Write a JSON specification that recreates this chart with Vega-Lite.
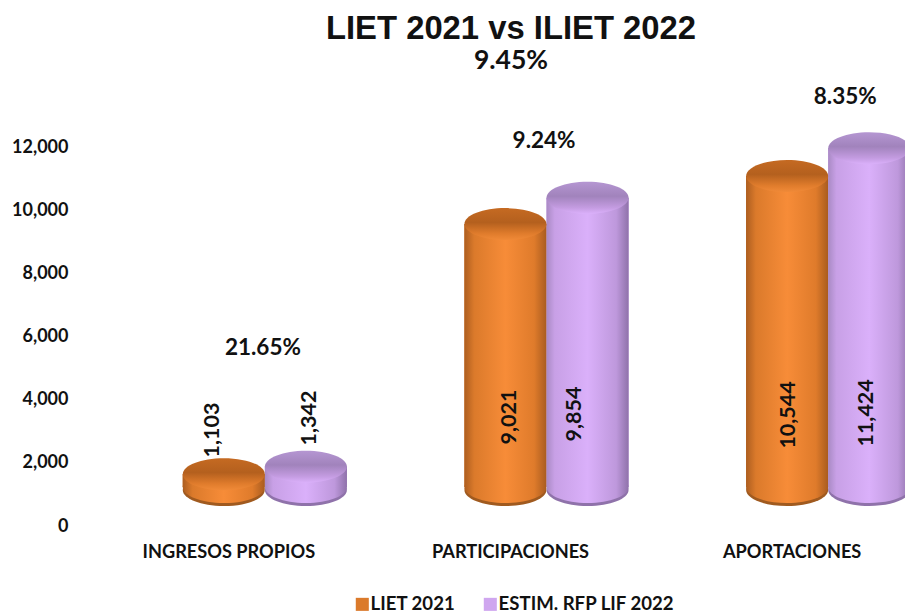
{
"$schema":"https://vega.github.io/schema/vega-lite/v6.json",
"autosize":{"type":"none"},
"padding":{"left":124,"top":146,"right":0,"bottom":88},
"width":845,"height":379,
"background":"white",
"title":{"text":"LIET 2021 vs ILIET 2022","subtitle":"9.45%","anchor":"middle","dx":-35.5,"offset":11,"font":"Liberation Sans","fontSize":32.8,"fontWeight":"bold","color":"#111111","subtitleFont":"Lato","subtitleFontSize":26.5,"subtitleFontWeight":"bold","subtitleColor":"#111111","subtitlePadding":3},
"config":{"view":{"stroke":null},"font":"Lato"},
"datasets":{
"bars":[
{"category":"INGRESOS PROPIOS","series":"LIET 2021","value":1103},
{"category":"INGRESOS PROPIOS","series":"ESTIM. RFP LIF 2022","value":1342,"change":"21.65%"},
{"category":"PARTICIPACIONES","series":"LIET 2021","value":9021},
{"category":"PARTICIPACIONES","series":"ESTIM. RFP LIF 2022","value":9854,"change":"9.24%"},
{"category":"APORTACIONES","series":"LIET 2021","value":10544},
{"category":"APORTACIONES","series":"ESTIM. RFP LIF 2022","value":11424,"change":"8.35%"}]
},
"data":{"name":"bars"},
"encoding":{
"x":{"field":"category","type":"nominal","sort":["INGRESOS PROPIOS","PARTICIPACIONES","APORTACIONES"],"scale":{"type":"band","paddingInner":0.417,"paddingOuter":0.2085},
"axis":{"title":null,"labelAngle":0,"domain":false,"ticks":false,"labelFont":"Lato","labelFontSize":18.2,"labelFontWeight":"bold","labelColor":"#111111","labelPadding":18,"labelOffset":-36}},
"xOffset":{"field":"series","type":"nominal","sort":["LIET 2021","ESTIM. RFP LIF 2022"],"scale":{"type":"band","domain":["LIET 2021","ESTIM. RFP LIF 2022"],"paddingInner":0,"paddingOuter":0}},
"y":{"field":"value","type":"quantitative","scale":{"domain":[0,12000],"nice":false},
"axis":{"title":null,"values":[0,2000,4000,6000,8000,10000,12000],"format":",.0f","grid":false,"domain":false,"ticks":false,"labelFont":"Lato","labelFontSize":18,"labelFontWeight":"bold","labelColor":"#111111","labelPadding":56,"labelOffset":1}}
},
"layer":[
{"mark":{"type":"point","filled":true,"opacity":1,"size":6724,"shape":"M-1,0A1,0.39,0,1,0,1,0A1,0.39,0,1,0,-1,0Z","yOffset":-35,"color":"#A05A1F"},
 "transform":[{"filter":"datum.series==='LIET 2021'"}],
 "encoding":{"y":{"datum":0}}},
{"mark":{"type":"point","filled":true,"opacity":1,"size":6724,"shape":"M-1,0A1,0.39,0,1,0,1,0A1,0.39,0,1,0,-1,0Z","yOffset":-35,"color":"#8F72AA"},
 "transform":[{"filter":"datum.series!=='LIET 2021'"}],
 "encoding":{"y":{"datum":0}}},
{"mark":{"type":"point","filled":true,"opacity":1,"size":6724,"shape":"M-1,0A1,0.39,0,1,0,1,0A1,0.39,0,1,0,-1,0Z","yOffset":-38,"color":{"gradient":"linear","x1":0,"y1":0,"x2":1,"y2":0,"stops":[{"offset":0,"color":"#AD5E20"},{"offset":0.12,"color":"#DB7A2B"},{"offset":0.5,"color":"#F78C38"},{"offset":0.85,"color":"#DF7B2B"},{"offset":1,"color":"#A95C1F"}]}},
 "transform":[{"filter":"datum.series==='LIET 2021'"}],
 "encoding":{"y":{"datum":0}}},
{"mark":{"type":"point","filled":true,"opacity":1,"size":6724,"shape":"M-1,0A1,0.39,0,1,0,1,0A1,0.39,0,1,0,-1,0Z","yOffset":-38,"color":{"gradient":"linear","x1":0,"y1":0,"x2":1,"y2":0,"stops":[{"offset":0,"color":"#A98AC4"},{"offset":0.1,"color":"#C8A0E6"},{"offset":0.5,"color":"#DAB0FA"},{"offset":0.85,"color":"#BE98DC"},{"offset":1,"color":"#8F72AA"}]}},
 "transform":[{"filter":"datum.series!=='LIET 2021'"}],
 "encoding":{"y":{"datum":0}}},
{"mark":{"type":"bar","yOffset":-16,"y2Offset":-38},
 "encoding":{"y2":{"datum":0},
 "color":{"field":"series","type":"nominal","sort":["LIET 2021","ESTIM. RFP LIF 2022"],
  "scale":{"domain":["LIET 2021","ESTIM. RFP LIF 2022"],"range":["#DB7A2B","#CFA6EF"]},
  "legend":{"title":null,"orient":"none","legendX":229,"legendY":449,"direction":"horizontal","columns":2,"symbolType":"square","symbolSize":170,"columnPadding":25,"labelFont":"Lato","labelFontSize":18.6,"labelFontWeight":"bold","labelColor":"#111111","labelOffset":-1,"labelLimit":220,"symbolStrokeWidth":0}}}},
{"transform":[{"filter":"datum.series==='LIET 2021'"}],"mark":{"type":"bar","yOffset":-16,"y2Offset":-38,"color":{"gradient":"linear","x1":0,"y1":0,"x2":1,"y2":0,"stops":[{"offset":0,"color":"#AD5E20"},{"offset":0.12,"color":"#DB7A2B"},{"offset":0.5,"color":"#F78C38"},{"offset":0.85,"color":"#DF7B2B"},{"offset":1,"color":"#A95C1F"}]}},"encoding":{"y2":{"datum":0}}},
{"transform":[{"filter":"datum.series!=='LIET 2021'"}],"mark":{"type":"bar","yOffset":-16,"y2Offset":-38,"color":{"gradient":"linear","x1":0,"y1":0,"x2":1,"y2":0,"stops":[{"offset":0,"color":"#A98AC4"},{"offset":0.1,"color":"#C8A0E6"},{"offset":0.5,"color":"#DAB0FA"},{"offset":0.85,"color":"#BE98DC"},{"offset":1,"color":"#8F72AA"}]}},"encoding":{"y2":{"datum":0}}},
{"mark":{"type":"point","filled":true,"opacity":1,"size":6724,"shape":"M-1,0A1,0.39,0,1,0,1,0A1,0.39,0,1,0,-1,0Z","yOffset":-16,"color":{"gradient":"linear","x1":0,"y1":0,"x2":0,"y2":1,"stops":[{"offset":0,"color":"#C56A22"},{"offset":0.45,"color":"#B4601E"},{"offset":0.8,"color":"#E07C2C"},{"offset":1,"color":"#F08A38"}]}},
 "transform":[{"filter":"datum.series==='LIET 2021'"}]},
{"mark":{"type":"point","filled":true,"opacity":1,"size":6724,"shape":"M-1,0A1,0.39,0,1,0,1,0A1,0.39,0,1,0,-1,0Z","yOffset":-16,"color":{"gradient":"linear","x1":0,"y1":0,"x2":0,"y2":1,"stops":[{"offset":0,"color":"#B596D2"},{"offset":0.45,"color":"#A183BC"},{"offset":0.8,"color":"#C39BE0"},{"offset":1,"color":"#DAB0FA"}]}},
 "transform":[{"filter":"datum.series!=='LIET 2021'"}]},
{"transform":[{"filter":"datum.value===1103"}],"mark":{"type":"text","angle":270,"font":"Lato","fontSize":21.5,"fontWeight":"bold","color":"#111111","dy":-11},"encoding":{"y":{"datum":3010},"text":{"field":"value","format":",.0f"}}},
{"transform":[{"filter":"datum.value===1342"}],"mark":{"type":"text","angle":270,"font":"Lato","fontSize":21.5,"fontWeight":"bold","color":"#111111","dy":4},"encoding":{"y":{"datum":3390},"text":{"field":"value","format":",.0f"}}},
{"transform":[{"filter":"datum.value===9021"}],"mark":{"type":"text","angle":270,"font":"Lato","fontSize":21.5,"fontWeight":"bold","color":"#111111","dy":4.5},"encoding":{"y":{"datum":3420},"text":{"field":"value","format":",.0f"}}},
{"transform":[{"filter":"datum.value===9854"}],"mark":{"type":"text","angle":270,"font":"Lato","fontSize":21.5,"fontWeight":"bold","color":"#111111","dy":-12.5},"encoding":{"y":{"datum":3515},"text":{"field":"value","format":",.0f"}}},
{"transform":[{"filter":"datum.value===10544"}],"mark":{"type":"text","angle":270,"font":"Lato","fontSize":21.5,"fontWeight":"bold","color":"#111111","dy":2},"encoding":{"y":{"datum":3485},"text":{"field":"value","format":",.0f"}}},
{"transform":[{"filter":"datum.value===11424"}],"mark":{"type":"text","angle":270,"font":"Lato","fontSize":21.5,"fontWeight":"bold","color":"#111111","dy":-2},"encoding":{"y":{"datum":3550},"text":{"field":"value","format":",.0f"}}},
{"transform":[{"filter":"datum.value===1342"}],"mark":{"type":"text","font":"Lato","fontSize":22.5,"fontWeight":"bold","color":"#111111","dx":-43},"encoding":{"y":{"datum":5605},"text":{"field":"change","type":"nominal"}}},
{"transform":[{"filter":"datum.value===9854"}],"mark":{"type":"text","font":"Lato","fontSize":22.5,"fontWeight":"bold","color":"#111111","dx":-43.5},"encoding":{"y":{"datum":12160},"text":{"field":"change","type":"nominal"}}},
{"transform":[{"filter":"datum.value===11424"}],"mark":{"type":"text","font":"Lato","fontSize":22.5,"fontWeight":"bold","color":"#111111","dx":-24},"encoding":{"y":{"datum":13553},"text":{"field":"change","type":"nominal"}}}
]
}
